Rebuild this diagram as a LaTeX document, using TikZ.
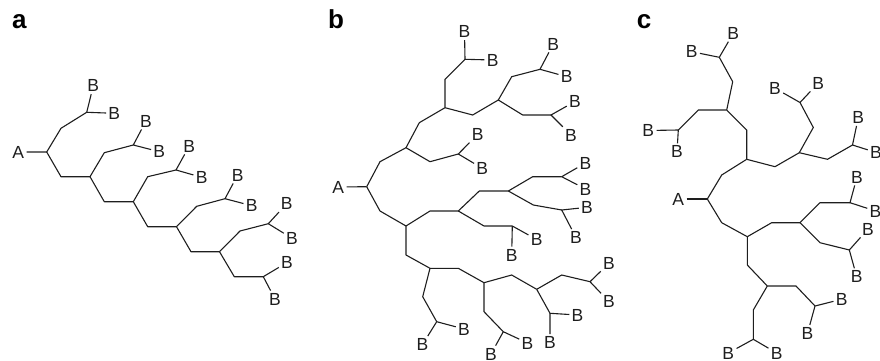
\documentclass[tikz,border=0pt]{standalone}
\usepackage{fontspec}
\setmainfont{Liberation Sans}
\definecolor{ink}{HTML}{1E1E1E}
\newcommand\Bfont{\fontsize{17.5}{19}\selectfont}
\newcommand\Pfont{\fontsize{26}{28}\selectfont\bfseries}
\begin{document}
\begin{tikzpicture}[x=1pt,y=-1pt,
  bond/.style={line width=1.1pt,draw=ink,line join=round},
  lab/.style={font=\Bfont,text=ink,inner sep=2.2pt},
  panel/.style={font=\Pfont,text=black,anchor=base west,inner sep=0pt}]
\useasboundingbox (0,0) rectangle (880,361);

% ================= panel a =================
\node[panel] (pa) at (12,29) {a};
\node[lab] (aA) at (18.3,152) {A};
\coordinate (a0) at (46.7,152);
\coordinate (a1m) at (61,176.7);   \coordinate (a1) at (90,176.7);
\coordinate (a2m) at (104.3,201.7); \coordinate (a2) at (133.3,201.7);
\coordinate (a3m) at (147.7,226.7); \coordinate (a3) at (176.5,226.7);
\coordinate (a4m) at (191,251.7);   \coordinate (a4) at (219.5,251.7);
\coordinate (a5m) at (234.3,276.7); \coordinate (a5) at (263.3,276.7);
\draw[bond] (aA) -- (a0) -- (a1m) -- (a1) -- (a2m) -- (a2) -- (a3m) -- (a3) -- (a4m) -- (a4) -- (a5m) -- (a5);
% branches
\coordinate (a0p) at (61,128.3);   \coordinate (af0) at (86.7,112.3);
\coordinate (a1p) at (104.3,152.7); \coordinate (af1) at (133.3,145);
\coordinate (a2p) at (147.7,176.7); \coordinate (af2) at (176,170);
\coordinate (a3p) at (196.7,206.3); \coordinate (af3) at (225,198.7);
\coordinate (a4p) at (240,231);     \coordinate (af4) at (268.3,223.7);
\draw[bond] (a0) -- (a0p) -- (af0);
\draw[bond] (a1) -- (a1p) -- (af1);
\draw[bond] (a2) -- (a2p) -- (af2);
\draw[bond] (a3) -- (a3p) -- (af3);
\draw[bond] (a4) -- (a4p) -- (af4);
\node[lab] (aB0u) at (93.3,85.7) {B};  \node[lab] (aB0r) at (114.3,113.3) {B};
\node[lab] (aB1u) at (146,121) {B};    \node[lab] (aB1r) at (159.3,151.7) {B};
\node[lab] (aB2u) at (189.3,146) {B};  \node[lab] (aB2r) at (201.7,177.3) {B};
\node[lab] (aB3u) at (237.7,175) {B};  \node[lab] (aB3r) at (251.7,205.7) {B};
\node[lab] (aB4u) at (286.7,203.7) {B}; \node[lab] (aB4r) at (292,238.3) {B};
\node[lab] (aB5u) at (287,262.5) {B};  \node[lab] (aB5d) at (275,299) {B};
\draw[bond] (aB0u) -- (af0) -- (aB0r);
\draw[bond] (aB1u) -- (af1) -- (aB1r);
\draw[bond] (aB2u) -- (af2) -- (aB2r);
\draw[bond] (aB3u) -- (af3) -- (aB3r);
\draw[bond] (aB4u) -- (af4) -- (aB4r);
\draw[bond] (aB5u) -- (a5) -- (aB5d);

% ================= panel b =================
\node[panel] (pb) at (328,29) {b};
\node[lab] (bA) at (338.3,187) {A};
\coordinate (bR) at (366.7,186.7);
\coordinate (bRu) at (380,161.7);   \coordinate (bU) at (406,147.7);
\coordinate (bRd) at (380,211);     \coordinate (bL) at (406,226);
\coordinate (bUu) at (419.3,122.7); \coordinate (bUU) at (445,107.7);
\coordinate (bUr) at (430,161.7);   \coordinate (bF1) at (458.3,154);
\coordinate (bUUu) at (445,79.3);   \coordinate (bF2) at (465,59.3);
\coordinate (bUUr) at (472.7,115);  \coordinate (bUUR) at (498.3,100);
\coordinate (bUURu) at (511.7,76.7); \coordinate (bF3) at (540,69.3);
\coordinate (bUURr) at (522.7,115); \coordinate (bF4) at (551,115);
\coordinate (bLr) at (430,211);     \coordinate (bLR) at (458.3,211);
\coordinate (bLd) at (406,255);     \coordinate (bLD) at (430,268.3);
\coordinate (bLRu) at (479.3,191);  \coordinate (bLRU) at (508.3,191);
\coordinate (bLRd) at (484,226);    \coordinate (bF5) at (512.3,226);
\coordinate (bLRUu) at (532.7,176.7); \coordinate (bF6) at (561.7,176.7);
\coordinate (bLRUd) at (533.3,205); \coordinate (bF7) at (561.7,210);
\coordinate (bLDd) at (422.7,296.7); \coordinate (bF8) at (436.7,321.7);
\coordinate (bLDr) at (458.3,268.3); \coordinate (bLDR) at (484,282.7);
\coordinate (bLDRd) at (484,311.7); \coordinate (bF9) at (503.3,331.7);
\coordinate (bLDRr) at (511.7,275); \coordinate (bLDRR) at (536.7,289.3);
\coordinate (bF10) at (550,313.3);
\coordinate (bLDRRr) at (561.7,275); \coordinate (bF11) at (590,281.7);
\draw[bond] (bA) -- (bR);
\draw[bond] (bR) -- (bRu) -- (bU);
\draw[bond] (bR) -- (bRd) -- (bL);
\draw[bond] (bU) -- (bUu) -- (bUU);
\draw[bond] (bU) -- (bUr) -- (bF1);
\draw[bond] (bUU) -- (bUUu) -- (bF2);
\draw[bond] (bUU) -- (bUUr) -- (bUUR);
\draw[bond] (bUUR) -- (bUURu) -- (bF3);
\draw[bond] (bUUR) -- (bUURr) -- (bF4);
\draw[bond] (bL) -- (bLr) -- (bLR);
\draw[bond] (bL) -- (bLd) -- (bLD);
\draw[bond] (bLR) -- (bLRu) -- (bLRU);
\draw[bond] (bLR) -- (bLRd) -- (bF5);
\draw[bond] (bLRU) -- (bLRUu) -- (bF6);
\draw[bond] (bLRU) -- (bLRUd) -- (bF7);
\draw[bond] (bLD) -- (bLDd) -- (bF8);
\draw[bond] (bLD) -- (bLDr) -- (bLDR);
\draw[bond] (bLDR) -- (bLDRd) -- (bF9);
\draw[bond] (bLDR) -- (bLDRr) -- (bLDRR);
\draw[bond] (bLDRR) -- (bF10);
\draw[bond] (bLDRR) -- (bLDRRr) -- (bF11);
\node[lab] (bB1a) at (477.7,134.3) {B};  \node[lab] (bB1b) at (482.3,168.3) {B};
\node[lab] (bB2a) at (464.5,31.7) {B};   \node[lab] (bB2b) at (492.7,60) {B};
\node[lab] (bB3a) at (553.3,44) {B};     \node[lab] (bB3b) at (566.7,76.7) {B};
\node[lab] (bB4a) at (575,101.5) {B};    \node[lab] (bB4b) at (571,135) {B};
\node[lab] (bB5a) at (536.7,239.5) {B};  \node[lab] (bB5b) at (511.7,255) {B};
\node[lab] (bB6a) at (585.5,163) {B};    \node[lab] (bB6b) at (585.5,189) {B};
\node[lab] (bB7a) at (587,207.3) {B};    \node[lab] (bB7b) at (576,237.5) {B};
\node[lab] (bB8a) at (464,329) {B};      \node[lab] (bB8b) at (422.5,344.5) {B};
\node[lab] (bB9a) at (527.5,343) {B};    \node[lab] (bB9b) at (491,354) {B};
\node[lab] (bB10a) at (577.5,315) {B};   \node[lab] (bB10b) at (550,342.5) {B};
\node[lab] (bB11a) at (609,263.3) {B};   \node[lab] (bB11b) at (609,301.7) {B};
\draw[bond] (bB1a) -- (bF1) -- (bB1b);
\draw[bond] (bB2a) -- (bF2) -- (bB2b);
\draw[bond] (bB3a) -- (bF3) -- (bB3b);
\draw[bond] (bB4a) -- (bF4) -- (bB4b);
\draw[bond] (bB5a) -- (bF5) -- (bB5b);
\draw[bond] (bB6a) -- (bF6) -- (bB6b);
\draw[bond] (bB7a) -- (bF7) -- (bB7b);
\draw[bond] (bB8a) -- (bF8) -- (bB8b);
\draw[bond] (bB9a) -- (bF9) -- (bB9b);
\draw[bond] (bB10a) -- (bF10) -- (bB10b);
\draw[bond] (bB11a) -- (bF11) -- (bB11b);

% ================= panel c =================
\node[panel] (pc) at (636.7,29) {c};
\node[lab] (cA) at (678.3,199) {A};
\coordinate (cR) at (707.3,199);
\coordinate (cRu) at (721.7,175);   \coordinate (cU) at (746.7,159.3);
\coordinate (cRd) at (721.7,222.7); \coordinate (cL) at (747.3,236.7);
\coordinate (cUu) at (746.7,130);   \coordinate (cUU) at (726.7,110);
\coordinate (cUr) at (775,166.7);   \coordinate (cUR) at (799.3,152.7);
\coordinate (cUUu) at (732.7,81.7); \coordinate (cF1) at (719.3,57.3);
\coordinate (cUUl) at (698.3,110);  \coordinate (cF2) at (678.3,130);
\coordinate (cURu) at (813.3,127.5); \coordinate (cF3) at (800,102.5);
\coordinate (cURr) at (827.5,159.3); \coordinate (cF4) at (852.5,145);
\coordinate (cLr) at (771.7,222.7); \coordinate (cLR) at (800,222.7);
\coordinate (cLd) at (747.3,265);   \coordinate (cLD) at (767.3,286);
\coordinate (cLRu) at (820,202.7);  \coordinate (cF5) at (850,202.7);
\coordinate (cLRd) at (820,242.7);  \coordinate (cF6) at (849.3,250);
\coordinate (cLDr) at (796,286);    \coordinate (cF8) at (815,306);
\coordinate (cLDd) at (753.3,310);  \coordinate (cF7) at (753.3,339.3);
\draw[bond] (cA) -- (cR);
\draw[bond] (cR) -- (cRu) -- (cU);
\draw[bond] (cR) -- (cRd) -- (cL);
\draw[bond] (cU) -- (cUu) -- (cUU);
\draw[bond] (cU) -- (cUr) -- (cUR);
\draw[bond] (cUU) -- (cUUu) -- (cF1);
\draw[bond] (cUU) -- (cUUl) -- (cF2);
\draw[bond] (cUR) -- (cURu) -- (cF3);
\draw[bond] (cUR) -- (cURr) -- (cF4);
\draw[bond] (cL) -- (cLr) -- (cLR);
\draw[bond] (cL) -- (cLd) -- (cLD);
\draw[bond] (cLR) -- (cLRu) -- (cF5);
\draw[bond] (cLR) -- (cLRd) -- (cF6);
\draw[bond] (cLD) -- (cLDr) -- (cF8);
\draw[bond] (cLD) -- (cLDd) -- (cF7);
\node[lab] (cB1a) at (733.3,33.3) {B};  \node[lab] (cB1b) at (691.7,51.7) {B};
\node[lab] (cB2a) at (648.3,130.5) {B}; \node[lab] (cB2b) at (677,151.7) {B};
\node[lab] (cB3a) at (818.3,83) {B};    \node[lab] (cB3b) at (775,88.3) {B};
\node[lab] (cB4a) at (858.3,117.5) {B}; \node[lab] (cB4b) at (876,152.5) {B};
\node[lab] (cB5a) at (857,177) {B};     \node[lab] (cB5b) at (875.5,211) {B};
\node[lab] (cB6a) at (868,229) {B};     \node[lab] (cB6b) at (856.7,276.7) {B};
\node[lab] (cB8a) at (841.7,299.3) {B}; \node[lab] (cB8b) at (807.5,333.3) {B};
\node[lab] (cB7a) at (728.3,353) {B};   \node[lab] (cB7b) at (776.7,353) {B};
\draw[bond] (cB1a) -- (cF1) -- (cB1b);
\draw[bond] (cB2a) -- (cF2) -- (cB2b);
\draw[bond] (cB3a) -- (cF3) -- (cB3b);
\draw[bond] (cB4a) -- (cF4) -- (cB4b);
\draw[bond] (cB5a) -- (cF5) -- (cB5b);
\draw[bond] (cB6a) -- (cF6) -- (cB6b);
\draw[bond] (cB8a) -- (cF8) -- (cB8b);
\draw[bond] (cB7a) -- (cF7) -- (cB7b);
\end{tikzpicture}
\end{document}
